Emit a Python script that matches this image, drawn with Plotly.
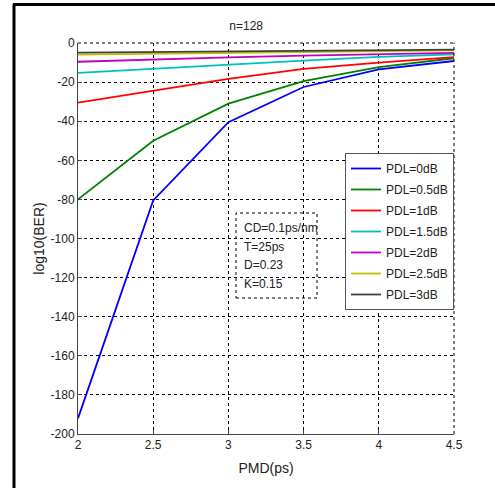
import plotly.graph_objects as go

pmd = [2, 2.5, 3, 3.5, 4, 4.5]
series_names = ["PDL=0dB", "PDL=0.5dB", "PDL=1dB", "PDL=1.5dB", "PDL=2dB", "PDL=2.5dB", "PDL=3dB"]
pdl_0 = [-192, -80.5, -40.5, -22.5, -13.5, -9.2]
pdl_05 = [-80, -50, -31, -19.5, -12.3, -7.8]
pdl_1 = [-30.5, -24.5, -18.3, -13.2, -10, -7.2]
pdl_15 = [-15.3, -13.1, -11, -9, -7.1, -5.8]
pdl_2 = [-9.6, -8.4, -7.4, -6.5, -5.7, -5]
pdl_25 = [-5.9, -5.5, -5.1, -4.7, -4.3, -3.8]
pdl_3 = [-4.9, -4.6, -4.3, -4.0, -3.7, -3.4]
colors = ["#0000ff", "#008000", "#ff0000", "#00bfbf", "#bf00bf", "#bfbf00", "#404040"]
ytick_vals = [0, -20, -40, -60, -80, -100, -120, -140, -160, -180, -200]
ytick_text = ["0", "-20", "-40", "-60", "-80", "-100", "-120", "-140", "-160", "-180", "-200"]
xtick_vals = [2, 2.5, 3, 3.5, 4, 4.5]
xtick_text = ["2", "2.5", "3", "3.5", "4", "4.5"]
note_lines = ["CD=0.1ps/nm", "T=25ps", "D=0.23", "K=0.15"]

W, H = 495, 488
L, R, T, B = 78, 454, 43, 434
FAM = "Liberation Sans, Arial, sans-serif"


def px(x):
    return (x - L) / (R - L)


def py(y):
    return (B - y) / (B - T)


fig = go.Figure()
for i, (name, ys, c) in enumerate(zip(series_names, [pdl_0, pdl_05, pdl_1, pdl_15, pdl_2, pdl_25, pdl_3], colors)):
    fig.add_trace(go.Scatter(x=pmd, y=ys, mode="lines", name=name, legendgroup=f"g{i}",
                             line=dict(color=c, width=1.8)))

font = dict(family=FAM, size=12, color="#222222")

fig.update_layout(
    width=W, height=H,
    margin=dict(l=L, r=W - R, t=T, b=H - B),
    paper_bgcolor="white", plot_bgcolor="white",
    font=font,
    showlegend=True,
    legend=dict(x=px(345), y=py(153), xanchor="left", yanchor="top",
                bgcolor="white", bordercolor="#555555", borderwidth=1,
                font=dict(family=FAM, size=12, color="#222222"),
                tracegroupgap=2),
    title=dict(text="n=128", x=px(265), xanchor="center", y=1 - 26 / H, yanchor="middle",
               font=dict(family=FAM, size=12, color="#222222")),
    xaxis=dict(range=[2, 4.5], tickvals=xtick_vals, ticktext=xtick_text,
               showgrid=True, gridcolor="#000000", griddash="dot", gridwidth=1,
               showline=True, linecolor="#444444", linewidth=1,
               ticks="inside", ticklen=4, tickcolor="#444444",
               zeroline=False,
               title=dict(text="PMD(ps)", standoff=11)),
    yaxis=dict(range=[-200, 0], tickvals=ytick_vals, ticktext=ytick_text,
               showgrid=True, gridcolor="#000000", griddash="dot", gridwidth=1,
               showline=True, linecolor="#444444", linewidth=1,
               ticks="inside", ticklen=4, tickcolor="#444444",
               zeroline=False,
               title=dict(text="log10(BER)", standoff=2)),
)

# top and right dotted frame lines
fig.add_shape(type="line", xref="paper", yref="paper", x0=0, x1=1, y0=1, y1=1,
              line=dict(color="#000000", width=1, dash="dot"))
fig.add_shape(type="line", xref="paper", yref="paper", x0=1, x1=1, y0=0, y1=1,
              line=dict(color="#000000", width=1, dash="dot"))

# outer thick black border (left and top)
fig.add_shape(type="line", xref="paper", yref="paper", x0=px(14), x1=px(14), y0=py(4), y1=py(500),
              line=dict(color="#000000", width=3))
fig.add_shape(type="line", xref="paper", yref="paper", x0=px(13), x1=px(500), y0=py(4.5), y1=py(4.5),
              line=dict(color="#000000", width=3))

# note box
fig.add_shape(type="rect", xref="paper", yref="paper", x0=px(236), x1=px(317), y0=py(298), y1=py(213),
              line=dict(color="#000000", width=1, dash="dot"), fillcolor="rgba(0,0,0,0)")
for k, line in enumerate(note_lines):
    fig.add_annotation(xref="paper", yref="paper", x=px(242), y=py(228 + 18.5 * k),
                       xanchor="left", yanchor="middle",
                       text=line, showarrow=False, align="left",
                       font=dict(family=FAM, size=12, color="#222222"))

fig.write_html("out.html", config={"displayModeBar": False},
               post_script="document.body.style.margin='0';document.body.style.overflow='hidden';")
